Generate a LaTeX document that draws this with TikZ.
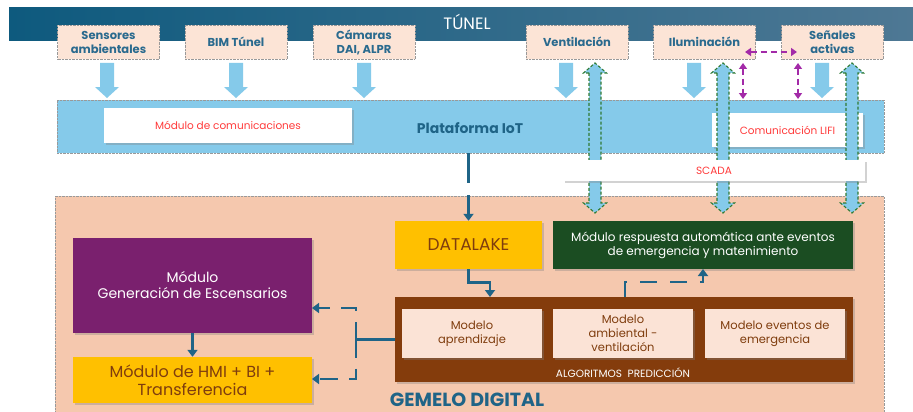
\documentclass[tikz,border=0pt]{standalone}
\usepackage{fontspec}
\setmainfont{Poppins}
\usetikzlibrary{arrows.meta,shadows,calc}
\definecolor{bannerL}{HTML}{0E5A7E}
\definecolor{bannerR}{HTML}{4E7894}
\definecolor{peachbox}{HTML}{FCE4D6}
\definecolor{tealtxt}{HTML}{2A6A8E}
\definecolor{lblue}{HTML}{85CAEA}
\definecolor{gemelo}{HTML}{F5C8AE}
\definecolor{yel}{HTML}{FFC000}
\definecolor{brownbox}{HTML}{843C0C}
\definecolor{browntxt}{HTML}{7F3D0E}
\definecolor{greenbox}{HTML}{1B4D22}
\definecolor{purplebox}{HTML}{7A206E}
\definecolor{modelfill}{HTML}{FBE3D6}
\definecolor{redtxt}{HTML}{FF3B3B}
\definecolor{purparrow}{HTML}{A32AA8}
\definecolor{greendash}{HTML}{2F7A33}
\definecolor{conncol}{HTML}{1F6487}
\tikzset{
  topbox/.style={draw=gray!80, densely dotted, fill=peachbox, minimum width=102pt, minimum height=34pt, inner sep=1pt, align=center, font=\bfseries\fontsize{11.5}{14}\selectfont, text=tealtxt},
  whitebox/.style={fill=white, inner sep=0pt, drop shadow={shadow xshift=1.5pt, shadow yshift=-1.5pt, opacity=0.35}, font=\fontsize{10.5}{12}\selectfont, text=redtxt},
  colbox/.style={inner sep=0pt, align=center, drop shadow={shadow xshift=1.5pt, shadow yshift=-1.5pt, opacity=0.35}},
  modelbox/.style={colbox, fill=modelfill, minimum width=140pt, minimum height=49pt, text=browntxt, font=\fontsize{11.5}{14}\selectfont},
  conn/.style={draw=conncol, line width=2.6pt},
  ctip/.style={-{Triangle[width=10pt,length=7pt]}},
  cdash/.style={dash pattern=on 18pt off 11pt},
  purp/.style={draw=purparrow, line width=1.6pt, dash pattern=on 6pt off 4pt, {Triangle[width=8pt,length=6pt]}-{Triangle[width=8pt,length=6pt]}},
  downarr/.pic={\fill[lblue] (-7,0) -- (7,0) -- (7,24) -- (12,24) -- (0,35) -- (-12,24) -- (-7,24) -- cycle;},
  updownarr/.pic={\filldraw[fill=lblue, draw=greendash, line width=1.1pt, dash pattern=on 3pt off 2pt]
     (-6,10) -- (-11.5,10) -- (0,0) -- (11.5,10) -- (6,10) -- (6,140) -- (11.5,140) -- (0,150) -- (-11.5,140) -- (-6,140) -- cycle;}
}
\begin{document}
\begin{tikzpicture}[x=1pt,y=-1pt]
\useasboundingbox[fill=white] (0,0) rectangle (913,412);
% banner
\shade[left color=bannerL, right color=bannerR] (9,8) rectangle (913,41);
\node[text=white, font=\fontsize{16.5}{18}\selectfont] (tunel) at (467,22) {TÚNEL};
% top boxes
\node[topbox] (sens) at (108.5,42) {Sensores\\ambientales};
\node[topbox] (bim) at (236,42) {BIM Túnel};
\node[topbox] (cam) at (364,42) {Cámaras\\DAI, ALPR};
\node[topbox] (vent) at (577,42) {Ventilación};
\node[topbox] (ilum) at (704.5,42) {Iluminación};
\node[topbox] (senal) at (832.5,42) {Señales\\activas};
% plataforma
\node[draw=gray!80, densely dotted, fill=lblue, minimum width=827pt, minimum height=53pt, inner sep=0pt] (plat) at (470.5,126.5) {};
\node[whitebox, minimum width=248pt, minimum height=35pt] (com) at (228,125.5) {Módulo de comunicaciones};
\node[text=conncol, font=\bfseries\fontsize{14}{16}\selectfont] (platlab) at (470,128) {Plataforma IoT};
\node[whitebox, minimum width=151pt, minimum height=34pt] (lifi) at (787.5,130) {Comunicación LIFI};
% gemelo
\node[draw=gray!80, densely dotted, fill=gemelo, minimum width=829pt, minimum height=222pt, inner sep=0pt, anchor=north west] (gem) at (55,196) {};
\node[colbox, fill=yel, minimum width=147pt, minimum height=48pt, text=browntxt, font=\fontsize{17}{19}\selectfont] (datalake) at (468.5,245) {DATALAKE};
\node[colbox, fill=greenbox, minimum width=300pt, minimum height=48pt, text=white, font=\fontsize{12}{14}\selectfont] (resp) at (703,245) {Módulo respuesta automática ante eventos\\de emergencia y matenimiento};
\node[colbox, fill=brownbox, minimum width=458pt, minimum height=85pt] (algo) at (624,339.5) {};
\node[modelbox] (apr) at (472,333.5) {Modelo\\aprendizaje};
\node[modelbox] (amb) at (623,333.5) {Modelo\\ambiental -\\ventilación};
\node[modelbox] (eve) at (775,333.5) {Modelo eventos de\\emergencia};
\node[text=white, font=\fontsize{10.5}{12}\selectfont] (algolab) at (623,373) {ALGORITMOS\ \ PREDICCIÓN};
\node[colbox, fill=purplebox, minimum width=239pt, minimum height=95pt, text=white, font=\fontsize{14}{16}\selectfont] (gen) at (192.5,285.5) {Módulo\\Generación de Escensarios};
\node[colbox, fill=yel, minimum width=239pt, minimum height=46pt, text=browntxt, font=\fontsize{16}{18}\selectfont] (hmi) at (192.5,380) {Módulo de HMI + BI +\\Transferencia};
\node[text=conncol, font=\bfseries\fontsize{19}{21}\selectfont] (gemlab) at (467,400) {GEMELO DIGITAL};
% down block arrows
\foreach \x in {107,236,364,566,694,822} \pic at (\x,63) {downarr};
% up/down arrows
\foreach \x in {595,723,852} \pic at (\x,63) {updownarr};
% SCADA on top of the arrows
\node[whitebox, minimum width=302pt, minimum height=21pt] (scada) at (714,170.5) {SCADA};
% purple arrows
\coordinate (pa1) at (745,52); \coordinate (pa2) at (797,52);
\coordinate (pb1) at (743,63); \coordinate (pb2) at (743,99);
\coordinate (pc1) at (798,63); \coordinate (pc2) at (798,99);
\draw[purp] (pa1) -- (pa2);
\draw[purp] (pb1) -- (pb2);
\draw[purp] (pc1) -- (pc2);
% connectors
\draw[conn, ctip, dash pattern=on 30pt off 12pt] (plat.south -| datalake.north) -- (datalake.north);
\coordinate (d2b) at (490,297);
\draw[conn, ctip] (datalake.south) -- ++(0,13) -| (d2b);
\coordinate (b2g) at (625,297);
\coordinate (g2b) at (703,269);
\draw[conn, ctip, dash pattern=on 17pt off 13pt] (b2g) -- ++(0,-15) -| (g2b);
\coordinate (lj) at (356,339.5);
\coordinate (lt) at (312,308);
\coordinate (lb) at (312,379);
\draw[conn] (algo.west) -- (lj);
\draw[conn, ctip, cdash] (lj) |- (lt);
\draw[conn, ctip, cdash] (lj) |- (lb);
\draw[conn, ctip] (gen.south) -- (hmi.north);
\end{tikzpicture}
\end{document}
